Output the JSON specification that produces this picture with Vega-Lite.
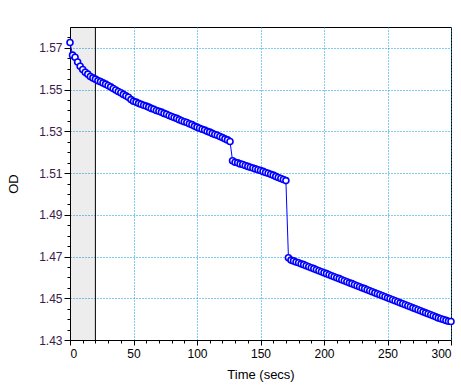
{
  "$schema": "https://vega.github.io/schema/vega-lite/v6.json",
  "width": 381,
  "height": 313,
  "autosize": {"type": "none"},
  "padding": {"left": 70, "top": 27, "right": 10, "bottom": 48},
  "background": "white",
  "config": {
    "view": {"stroke": "black", "strokeWidth": 1},
    "font": "Liberation Sans"
  },
  "title": {
    "text": "Vmax Points = 40",
    "orient": "bottom",
    "anchor": "start",
    "frame": "group",
    "dx": -66,
    "offset": 36,
    "fontSize": 12,
    "fontWeight": "normal",
    "color": "black"
  },
  "datasets": {
    "od": [
      {"t":0,"od":1.5726},{"t":2,"od":1.5665},{"t":4,"od":1.5655},{"t":6,"od":1.5632},{"t":8,"od":1.5612},{"t":10,"od":1.5596},{"t":12,"od":1.5583},{"t":14,"od":1.5574},{"t":16,"od":1.5563},{"t":18,"od":1.5556},{"t":20,"od":1.5550},{"t":22,"od":1.5543},{"t":24,"od":1.5538},{"t":26,"od":1.5532},{"t":28,"od":1.5526},{"t":30,"od":1.5520},{"t":32,"od":1.5513},{"t":34,"od":1.5505},{"t":36,"od":1.5498},{"t":38,"od":1.5491},{"t":40,"od":1.5485},{"t":42,"od":1.5477},{"t":44,"od":1.5470},{"t":46,"od":1.5463},{"t":48,"od":1.5452},{"t":50,"od":1.5444},
      {"t":52,"od":1.5440},{"t":54,"od":1.5434},{"t":56,"od":1.5430},{"t":58,"od":1.5425},{"t":60,"od":1.5421},{"t":62,"od":1.5416},{"t":64,"od":1.5410},{"t":66,"od":1.5406},{"t":68,"od":1.5400},{"t":70,"od":1.5396},{"t":72,"od":1.5392},{"t":74,"od":1.5386},{"t":76,"od":1.5382},{"t":78,"od":1.5376},{"t":80,"od":1.5371},{"t":82,"od":1.5366},{"t":84,"od":1.5362},{"t":86,"od":1.5356},{"t":88,"od":1.5351},{"t":90,"od":1.5346},{"t":92,"od":1.5342},{"t":94,"od":1.5336},{"t":96,"od":1.5332},{"t":98,"od":1.5325},{"t":100,"od":1.5320},
      {"t":102,"od":1.5315},{"t":104,"od":1.5310},{"t":106,"od":1.5306},{"t":108,"od":1.5300},{"t":110,"od":1.5296},{"t":112,"od":1.5290},{"t":114,"od":1.5285},{"t":116,"od":1.5281},{"t":118,"od":1.5275},{"t":120,"od":1.5270},{"t":122,"od":1.5264},{"t":124,"od":1.5259},{"t":126,"od":1.5251},
      {"t":128,"od":1.5159},{"t":130,"od":1.5152},{"t":132,"od":1.5149},{"t":134,"od":1.5144},{"t":136,"od":1.5141},{"t":138,"od":1.5136},{"t":140,"od":1.5132},{"t":142,"od":1.5128},{"t":144,"od":1.5124},{"t":146,"od":1.5120},{"t":148,"od":1.5116},{"t":150,"od":1.5112},{"t":152,"od":1.5108},{"t":154,"od":1.5103},{"t":156,"od":1.5099},{"t":158,"od":1.5094},{"t":160,"od":1.5090},{"t":162,"od":1.5084},{"t":164,"od":1.5079},{"t":166,"od":1.5074},{"t":168,"od":1.5069},{"t":170,"od":1.5064},
      {"t":172,"od":1.4694},{"t":174,"od":1.4683},{"t":176,"od":1.4679},{"t":178,"od":1.4674},{"t":180,"od":1.4670},{"t":182,"od":1.4665},{"t":184,"od":1.4661},{"t":186,"od":1.4656},{"t":188,"od":1.4651},{"t":190,"od":1.4646},{"t":192,"od":1.4642},{"t":194,"od":1.4637},{"t":196,"od":1.4632},{"t":198,"od":1.4627},{"t":200,"od":1.4622},
      {"t":202,"od":1.4618},{"t":204,"od":1.4613},{"t":206,"od":1.4608},{"t":208,"od":1.4603},{"t":210,"od":1.4598},{"t":212,"od":1.4594},{"t":214,"od":1.4589},{"t":216,"od":1.4584},{"t":218,"od":1.4579},{"t":220,"od":1.4574},{"t":222,"od":1.4570},{"t":224,"od":1.4565},{"t":226,"od":1.4560},{"t":228,"od":1.4555},{"t":230,"od":1.4550},{"t":232,"od":1.4546},{"t":234,"od":1.4541},{"t":236,"od":1.4536},{"t":238,"od":1.4531},{"t":240,"od":1.4526},{"t":242,"od":1.4522},{"t":244,"od":1.4517},{"t":246,"od":1.4512},{"t":248,"od":1.4507},{"t":250,"od":1.4502},
      {"t":252,"od":1.4498},{"t":254,"od":1.4493},{"t":256,"od":1.4488},{"t":258,"od":1.4483},{"t":260,"od":1.4478},{"t":262,"od":1.4474},{"t":264,"od":1.4469},{"t":266,"od":1.4464},{"t":268,"od":1.4459},{"t":270,"od":1.4454},{"t":272,"od":1.4450},{"t":274,"od":1.4445},{"t":276,"od":1.4440},{"t":278,"od":1.4435},{"t":280,"od":1.4430},{"t":282,"od":1.4426},{"t":284,"od":1.4421},{"t":286,"od":1.4416},{"t":288,"od":1.4411},{"t":290,"od":1.4406},{"t":292,"od":1.4402},{"t":294,"od":1.4398},{"t":296,"od":1.4394},{"t":298,"od":1.4390},{"t":300,"od":1.4389}
    ],
    "window": [{"start": 0, "end": 20}]
  },
  "layer": [
    {
      "data": {"name": "window"},
      "mark": {"type": "rect", "fill": "black", "fillOpacity": 0.07},
      "encoding": {
        "x": {"field": "start", "type": "quantitative", "scale": {"domain": [0, 300], "nice": false, "zero": false},
          "axis": {"orient": "bottom", "values": [0, 50, 100, 150, 200, 250, 300], "title": "Time (secs)", "grid": true,
            "gridColor": "#0099dd", "gridDash": [1, 2], "gridWidth": 1, "gridOpacity": 1,
            "domainColor": "black", "tickColor": "black", "tickSize": 5,
            "labelColor": "black", "labelFontSize": 12, "labelPadding": 3, "labelFont": "Liberation Sans",
            "titleFontSize": 13, "titleFontWeight": "normal", "titleColor": "black", "titlePadding": 9, "titleFont": "Liberation Sans"}},
        "x2": {"field": "end"},
        "y": {"datum": 1.43, "type": "quantitative", "scale": {"domain": [1.43, 1.58], "nice": false, "zero": false},
          "axis": {"orient": "left", "values": [1.43, 1.45, 1.47, 1.49, 1.51, 1.53, 1.55, 1.57], "format": ".2f", "title": "OD", "grid": true,
            "gridColor": "#0099dd", "gridDash": [1, 2], "gridWidth": 1, "gridOpacity": 1,
            "domainColor": "black", "tickColor": "black", "tickSize": 6,
            "labelColor": "#3a1a4a", "labelFontSize": 12, "labelPadding": 2, "labelFont": "Liberation Sans",
            "titleFontSize": 13, "titleFontWeight": "normal", "titleColor": "black", "titlePadding": 18, "titleFont": "Liberation Sans"}},
        "y2": {"datum": 1.58}
      }
    },
    {
      "data": {"name": "window"},
      "mark": {"type": "rule", "color": "black", "strokeWidth": 1},
      "encoding": {
        "x": {"field": "end", "type": "quantitative", "axis": null}
      }
    },
    {
      "data": {"name": "od"},
      "mark": {"type": "line", "color": "#0000ff", "strokeWidth": 1},
      "encoding": {
        "x": {"field": "t", "type": "quantitative", "axis": null},
        "y": {"field": "od", "type": "quantitative", "axis": null}
      }
    },
    {
      "data": {"name": "od"},
      "mark": {"type": "point", "shape": "circle", "filled": false, "fill": "white", "fillOpacity": 1, "stroke": "#0000ff", "strokeWidth": 1.6, "size": 36, "opacity": 1},
      "encoding": {
        "x": {"field": "t", "type": "quantitative",
          "axis": {"orient": "bottom", "values": [10,20,30,40,60,70,80,90,110,120,130,140,160,170,180,190,210,220,230,240,260,270,280,290], "labels": false, "title": null, "grid": false, "domain": false, "tickColor": "black", "tickSize": 3}},
        "y": {"field": "od", "type": "quantitative",
          "axis": {"orient": "left", "values": [1.435,1.44,1.445,1.455,1.46,1.465,1.475,1.48,1.485,1.495,1.5,1.505,1.515,1.52,1.525,1.535,1.54,1.545,1.555,1.56,1.565,1.575], "labels": false, "title": null, "grid": false, "domain": false, "tickColor": "black", "tickSize": 3}}
      }
    }
  ],
  "resolve": {"axis": {"x": "independent", "y": "independent"}}
}
